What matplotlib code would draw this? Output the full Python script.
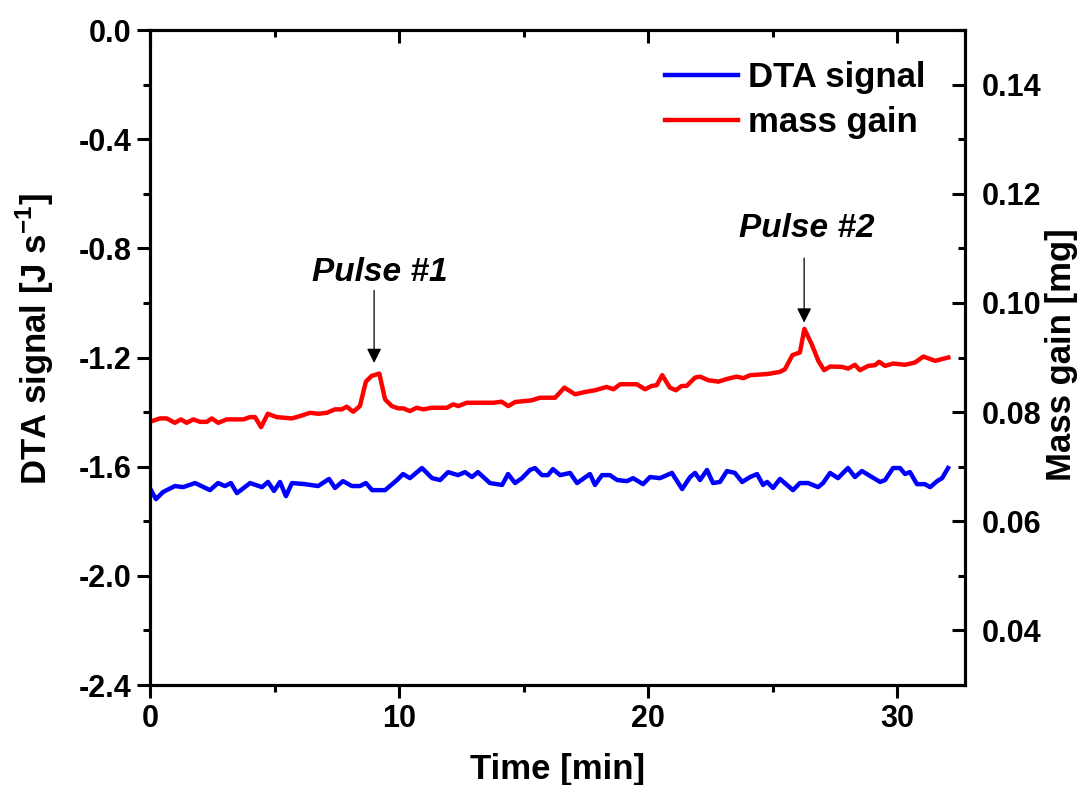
import numpy as np
import matplotlib
matplotlib.use('Agg')
import matplotlib.pyplot as plt
from matplotlib.ticker import MultipleLocator

plt.rcParams['font.family'] = ['Liberation Sans', 'DejaVu Sans']
plt.rcParams['font.weight'] = 'bold'
plt.rcParams['axes.labelweight'] = 'bold'
plt.rcParams['mathtext.fontset'] = 'custom'
plt.rcParams['mathtext.rm'] = 'Liberation Sans:bold'
plt.rcParams['mathtext.bf'] = 'Liberation Sans:bold'

# DTA signal (left axis)
t_dta = [0.04, 0.24, 0.52, 1.00, 1.33, 1.81, 2.41, 2.73, 3.01, 3.25, 3.49, 4.02, 4.50, 4.74, 4.98,
         5.22, 5.46, 5.70, 6.22, 6.75, 7.19, 7.43, 7.75, 8.11, 8.43, 8.67, 8.92, 9.44, 9.92, 10.16,
         10.44, 10.92, 11.33, 11.65, 11.97, 12.37, 12.65, 12.93, 13.17, 13.65, 14.14, 14.38, 14.66,
         14.94, 15.26, 15.46, 15.74, 15.98, 16.18, 16.47, 16.87, 17.15, 17.67, 17.87, 18.15, 18.47,
         18.76, 19.16, 19.40, 19.80, 20.08, 20.48, 20.96, 21.37, 21.69, 21.89, 22.09, 22.37, 22.61,
         22.89, 23.17, 23.49, 23.78, 24.10, 24.38, 24.62, 24.78, 25.02, 25.30, 25.82, 26.10, 26.43,
         26.83, 27.03, 27.31, 27.63, 28.03, 28.31, 28.59, 29.32, 29.52, 29.84, 30.12, 30.32, 30.52,
         30.80, 31.12, 31.33, 31.61, 31.81, 32.05]
dta = [-1.686, -1.719, -1.693, -1.671, -1.675, -1.660, -1.686, -1.660, -1.671, -1.660, -1.697,
       -1.660, -1.675, -1.656, -1.689, -1.656, -1.708, -1.660, -1.664, -1.671, -1.645, -1.678,
       -1.653, -1.671, -1.671, -1.660, -1.686, -1.686, -1.649, -1.627, -1.642, -1.605, -1.642,
       -1.649, -1.620, -1.631, -1.620, -1.638, -1.620, -1.660, -1.667, -1.627, -1.660, -1.642,
       -1.612, -1.605, -1.631, -1.631, -1.609, -1.631, -1.623, -1.660, -1.627, -1.667, -1.631,
       -1.631, -1.649, -1.653, -1.642, -1.664, -1.638, -1.642, -1.623, -1.682, -1.638, -1.623,
       -1.649, -1.612, -1.660, -1.656, -1.616, -1.623, -1.656, -1.638, -1.627, -1.667, -1.656,
       -1.678, -1.645, -1.686, -1.660, -1.660, -1.675, -1.660, -1.623, -1.642, -1.605, -1.638,
       -1.616, -1.656, -1.649, -1.605, -1.605, -1.627, -1.620, -1.664, -1.664, -1.675, -1.653,
       -1.642, -1.605]

# mass gain (right axis)
t_mass = [0.07, 0.40, 0.67, 1.00, 1.24, 1.47, 1.74, 2.01, 2.28, 2.48, 2.74, 3.08, 3.41, 3.75, 4.02,
          4.22, 4.46, 4.73, 5.09, 5.42, 5.69, 6.02, 6.43, 6.76, 7.10, 7.43, 7.70, 7.90, 8.16, 8.43,
          8.67, 8.90, 9.21, 9.44, 9.71, 9.97, 10.17, 10.44, 10.71, 10.98, 11.31, 11.92, 12.18, 12.38,
          12.72, 13.39, 13.79, 14.12, 14.39, 14.66, 15.33, 15.66, 16.27, 16.64, 17.07, 17.47, 17.87,
          18.34, 18.61, 18.88, 19.55, 19.88, 20.15, 20.35, 20.57, 20.88, 21.12, 21.35, 21.55, 21.89,
          22.09, 22.42, 22.82, 23.22, 23.56, 23.83, 24.10, 24.70, 24.90, 25.30, 25.50, 25.80, 26.10,
          26.28, 26.57, 26.84, 27.07, 27.31, 27.78, 28.04, 28.31, 28.51, 28.85, 29.12, 29.28, 29.52,
          29.85, 30.32, 30.72, 31.06, 31.53, 32.06]
mass = [0.07834, 0.07884, 0.07884, 0.07803, 0.07866, 0.07803, 0.07866, 0.07821, 0.07821, 0.07884,
        0.07803, 0.07866, 0.07866, 0.07866, 0.07908, 0.07908, 0.07724, 0.07969, 0.07908, 0.07895,
        0.07884, 0.07926, 0.07987, 0.07969, 0.07987, 0.08050, 0.08050, 0.08098, 0.08006, 0.08110,
        0.08558, 0.08663, 0.08705, 0.08234, 0.08110, 0.08068, 0.08068, 0.08018, 0.08079, 0.08050,
        0.08079, 0.08079, 0.08142, 0.08110, 0.08171, 0.08171, 0.08171, 0.08190, 0.08110, 0.08184,
        0.08215, 0.08263, 0.08263, 0.08448, 0.08326, 0.08368, 0.08400, 0.08460, 0.08418, 0.08510,
        0.08510, 0.08418, 0.08479, 0.08492, 0.08676, 0.08448, 0.08400, 0.08479, 0.08479, 0.08632,
        0.08650, 0.08584, 0.08558, 0.08613, 0.08650, 0.08621, 0.08676, 0.08694, 0.08705, 0.08737,
        0.08786, 0.09044, 0.09092, 0.09523, 0.09247, 0.08939, 0.08768, 0.08834, 0.08829, 0.08797,
        0.08866, 0.08768, 0.08847, 0.08860, 0.08921, 0.08847, 0.08889, 0.08866, 0.08908, 0.09018,
        0.08939, 0.09000]

# pulse annotations: label, arrow x, arrow tip, arrow tail, text x, text y (mass units)
pulse_labels = ['Pulse #1', 'Pulse #2']
pulse_x = [9.0, 26.27]
pulse_tip = [0.0890, 0.0964]
pulse_tail = [0.1023, 0.1082]
pulse_tx = [9.24, 26.39]
pulse_ty = [0.1056, 0.1137]

fig = plt.figure(figsize=(10.81, 7.85), dpi=100)
ax = fig.add_axes([150/1081, 1-685/785, 815/1081, 655/785])
ax2 = ax.twinx()
top = ax.twiny()

l1, = ax.plot(t_dta, dta, color='#0000ff', lw=3.2)
l2, = ax2.plot(t_mass, mass, color='#ff0000', lw=3.2)

ax.set_xlim(0, 32.73)
top.set_xlim(0, 32.73)
ax.set_ylim(-2.4, 0.0)
ax2.set_ylim(0.03, 0.15)

for a in (ax, top):
    a.xaxis.set_major_locator(MultipleLocator(10))
    a.xaxis.set_minor_locator(MultipleLocator(5))
ax.yaxis.set_major_locator(MultipleLocator(0.4))
ax.yaxis.set_minor_locator(MultipleLocator(0.2))
ax2.yaxis.set_major_locator(MultipleLocator(0.02))
ax2.yaxis.set_minor_locator(MultipleLocator(0.01))
ax.yaxis.set_major_formatter(plt.FuncFormatter(lambda v, p: '%.1f' % v))
ax2.yaxis.set_major_formatter(plt.FuncFormatter(lambda v, p: '%.2f' % v))

for a in (ax, ax2, top):
    for s in a.spines.values():
        s.set_linewidth(2.2)

ax.tick_params(axis='both', which='major', direction='out', length=9.5, width=2.2,
               labelsize=22, pad=4)
ax.tick_params(axis='both', which='minor', direction='out', length=5, width=2.2)
ax2.tick_params(axis='y', which='major', direction='in', length=9.5, width=2.2,
                labelsize=22, pad=12)
ax2.tick_params(axis='y', which='minor', direction='in', length=5, width=2.2)
top.tick_params(axis='x', which='major', direction='in', length=9.5, width=2.2,
                labeltop=False)
top.tick_params(axis='x', which='minor', direction='in', length=5, width=2.2)

ax.set_xlabel('Time [min]', fontsize=25, fontweight='bold')
ax.xaxis.set_label_coords(0.5, -0.104)
ax.xaxis.label.set_va('top')
ax.set_ylabel(r'DTA signal [J s$^{-1}$]', fontsize=25, fontweight='bold')
ax.yaxis.set_label_coords(-0.141, 0.528)
ax.yaxis.label.set_va('center')
ax2.set_ylabel('Mass gain [mg]', fontsize=25, fontweight='bold', rotation=90)
ax2.yaxis.set_label_coords(1.119, 0.504)
ax2.yaxis.label.set_va('center')

for i in range(len(pulse_labels)):
    ax2.annotate('', xy=(pulse_x[i], pulse_tip[i]), xytext=(pulse_x[i], pulse_tail[i]),
                 arrowprops=dict(arrowstyle='-|>', color='black', lw=0.9,
                                 mutation_scale=22, shrinkA=0, shrinkB=0))
    ax2.text(pulse_tx[i], pulse_ty[i], pulse_labels[i], fontsize=24, fontweight='bold',
             style='italic', ha='center', va='center')

leg = top.legend([l1, l2], ['DTA signal', 'mass gain'], loc='upper right',
                 bbox_to_anchor=(0.99, 1.0), frameon=False, fontsize=25,
                 handlelength=2.1, handletextpad=0.3, labelspacing=0.35)

fig.savefig('out.png', dpi=100)
